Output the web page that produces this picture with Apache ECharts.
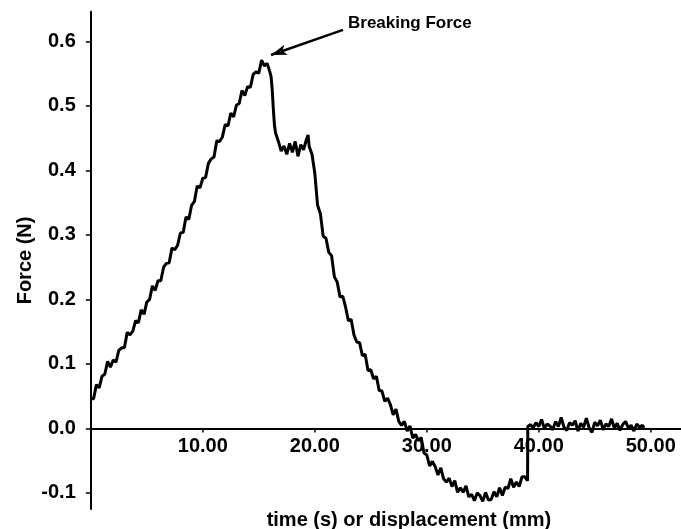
<!DOCTYPE html>
<html>
<head>
<meta charset="utf-8">
<script src="https://cdn.jsdelivr.net/npm/echarts@6/dist/echarts.min.js"></script>
<style>html,body{margin:0;padding:0;background:#fff;}#c{width:681px;height:529px;}</style>
</head>
<body>
<div id="c"></div>
<script>
// time (s) or displacement (mm)
const timeS = [
0,0.25,0.5,0.75,1,1.25,1.5,1.75,2,2.25,2.5,2.75,3,3.25,3.5,3.75,4,4.25,4.5,4.75,
5,5.25,5.5,5.75,6,6.25,6.5,6.75,7,7.25,7.5,7.75,8,8.25,8.5,8.75,9,9.25,9.5,9.75,
10,10.25,10.5,10.75,11,11.25,11.5,11.75,12,12.25,12.5,12.75,13,13.25,13.5,13.75,14,14.25,14.5,14.75,
15,15.25,15.5,15.75,16,16.1,16.2,16.3,16.4,16.5,16.75,17,17.25,17.5,17.75,18,18.25,18.5,18.75,19,
19.25,19.4,19.5,19.75,
20,20.25,20.5,20.75,21,21.25,21.5,21.75,22,22.25,22.5,22.75,23,23.25,23.5,23.75,24,24.25,24.5,24.75,
25,25.25,25.5,25.75,26,26.25,26.5,26.75,27,27.25,27.5,27.75,28,28.25,28.5,28.75,29,29.25,29.5,29.75,
30,30.25,30.5,30.75,31,31.25,31.5,31.75,32,32.25,32.5,32.75,33,33.25,33.5,33.75,34,34.25,34.5,34.75,
35,35.25,35.5,35.75,36,36.25,36.5,36.75,37,37.25,37.5,37.75,38,38.25,38.5,38.75,39,39.02,
39.25,39.5,39.75,40,40.25,40.5,40.75,41,41.25,41.5,41.75,42,42.25,42.5,42.75,43,43.25,43.5,43.75,44,
44.25,44.5,44.75,45,45.25,45.5,45.75,46,46.25,46.5,46.75,47,47.25,47.5,47.75,48,48.25,48.5,48.75,49,
49.25,49.4
];
// Force (N)
const forceN = [
0.046,0.046,0.068,0.063,0.081,0.084,0.104,0.095,0.106,0.103,0.121,0.125,0.125,0.149,0.145,0.151,0.167,0.164,0.184,0.177,
0.196,0.200,0.221,0.214,0.229,0.229,0.250,0.256,0.257,0.280,0.277,0.284,0.303,0.304,0.328,0.324,0.346,0.352,0.376,0.373,
0.388,0.389,0.411,0.418,0.421,0.446,0.445,0.452,0.471,0.469,0.489,0.483,0.501,0.504,0.524,0.516,0.530,0.529,0.549,0.553,
0.551,0.571,0.562,0.566,0.552,0.545,0.525,0.495,0.470,0.458,0.445,0.430,0.438,0.425,0.442,0.428,0.445,0.422,0.440,0.432,
0.448,0.455,0.437,0.425,
0.396,0.346,0.333,0.298,0.295,0.273,0.268,0.235,0.227,0.204,0.205,0.188,0.167,0.169,0.145,0.134,0.133,0.113,0.115,0.090,
0.091,0.077,0.081,0.059,0.058,0.042,0.047,0.037,0.021,0.030,0.011,0.005,0.011,-0.004,0.004,-0.015,-0.009,-0.019,-0.014,-0.038,
-0.041,-0.058,-0.051,-0.059,-0.072,-0.061,-0.078,-0.083,-0.077,-0.090,-0.081,-0.099,-0.092,-0.099,-0.089,-0.106,-0.102,-0.112,-0.100,-0.104,
-0.113,-0.099,-0.111,-0.110,-0.098,-0.106,-0.092,-0.104,-0.091,-0.093,-0.078,-0.091,-0.083,-0.090,-0.075,-0.075,-0.081,0.003,
0.006,0.001,0.009,0.003,0.014,0.000,0.007,0.004,-0.002,0.011,0.003,0.017,0.002,-0.003,0.009,0.005,0.012,-0.004,0.008,0.002,
0.016,0.001,-0.006,0.010,0.004,0.013,-0.002,0.007,0.003,0.015,0.000,0.008,-0.003,0.006,0.011,0.001,0.005,-0.004,0.007,0.002,
0.005,0.001
];
const xTicks = [10, 20, 30, 40, 50];
const yTicks = [-0.1, 0, 0.1, 0.2, 0.3, 0.4, 0.5, 0.6];
const annotationText = 'Breaking Force';
const arrowFrom = [22.52, 0.618];
const arrowTo = [16.09, 0.579];

const chart = echarts.init(document.getElementById('c'), null, {renderer: 'canvas'});
const fontFam = '"Liberation Sans", Arial, sans-serif';
const seriesData = timeS.map((t, i) => [t, forceN[i]]);
chart.setOption({
  animation: false,
  backgroundColor: '#ffffff',
  grid: {left: 90.8, right: 0, top: 11.8, bottom: 19.9, containLabel: false, outerBoundsMode: 'none'},
  xAxis: {
    type: 'value', min: 0, max: 52.7, position: 'bottom', offset: -80.6,
    name: 'time (s) or displacement (mm)', nameLocation: 'middle', nameGap: 82, nameMoveOverlap: false,
    nameTextStyle: {fontFamily: fontFam, fontWeight: 'bold', fontSize: 20, color: '#000', padding: [0, 0, 0, 46]},
    axisLine: {onZero: false, lineStyle: {color: '#000', width: 2}},
    axisTick: {show: true, inside: false, length: 4, customValues: xTicks, lineStyle: {color: '#000', width: 1.5}},
    axisLabel: {customValues: xTicks, margin: 8, fontFamily: fontFam, fontWeight: 'bold', fontSize: 20, color: '#000',
      formatter: v => v.toFixed(2)},
    splitLine: {show: false}
  },
  yAxis: {
    type: 'value', min: -0.125, max: 0.646,
    name: 'Force (N)', nameLocation: 'middle', nameGap: 55, nameRotate: 90, nameMoveOverlap: false,
    nameTextStyle: {fontFamily: fontFam, fontWeight: 'bold', fontSize: 20, color: '#000'},
    axisLine: {lineStyle: {color: '#000', width: 2}},
    axisTick: {show: true, inside: false, length: 5, customValues: yTicks, lineStyle: {color: '#000', width: 1.5}},
    axisLabel: {customValues: yTicks, margin: 15, fontFamily: fontFam, fontWeight: 'bold', fontSize: 20, color: '#000',
      formatter: v => v.toFixed(1)},
    splitLine: {show: false}
  },
  graphic: [{
    type: 'text', left: 348, top: 15,
    style: {text: annotationText, fontFamily: fontFam, fontWeight: 'bold', fontSize: 17, fill: '#000'}
  }],
  series: [{
    type: 'line', data: seriesData, showSymbol: false, symbol: 'none',
    lineStyle: {color: '#000', width: 3}, z: 5,
    markLine: {
      silent: true, symbol: ['none', 'arrow'], symbolSize: [8, 16],
      lineStyle: {color: '#000', width: 2.5, type: 'solid'},
      label: {show: false},
      data: [[{coord: arrowFrom}, {coord: arrowTo}]]
    }
  }]
});
</script>
</body>
</html>
